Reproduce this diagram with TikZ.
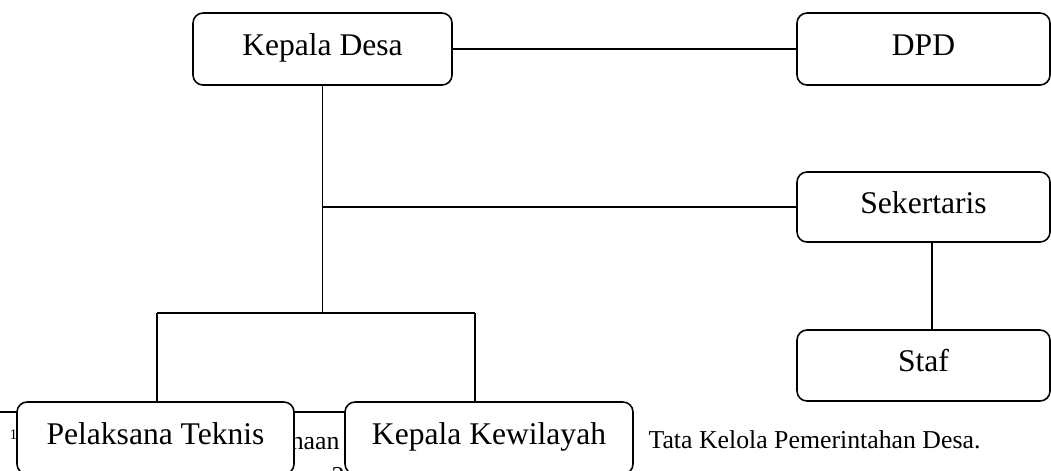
\documentclass[tikz,border=0pt]{standalone}
\usepackage{fontspec}
\setmainfont{Liberation Serif}

\newcommand{\px}{0.38pt}
\tikzset{
    unitbox/.style={draw, line width=0.6pt, rounded corners=3.8pt, fill=white,
        inner sep=0pt, text height=0.68em, text depth=0.22em,
        font=\fontsize{12}{14}\selectfont},
    link/.style={line width=0.6pt},
    notetext/.style={inner sep=0pt, font=\fontsize{9.8}{12}\selectfont}
}

\begin{document}
\begin{tikzpicture}[x=\px, y=-\px]
    \useasboundingbox (0,0) rectangle (1051,470);
    \clip (0,0) rectangle (1051,470);

    % Footnote of the page, lying behind the chart
    \coordinate (ruleL) at (0,412);
    \coordinate (ruleR) at (370,412);
    \draw[line width=0.5pt] (ruleL) -- (ruleR);
    \node[notetext, font=\fontsize{5.5}{6}\selectfont, anchor=base] (fnA) at (13.5,439) {1};
    \node[notetext, anchor=base east] (fnB) at (340,449) {haan};
    \node[notetext, anchor=base] (fnC) at (338,484) {2};
    \node[notetext, anchor=base west] (fnD) at (648,448) {Tata Kelola Pemerintahan Desa.};

    % Top row
    \node[unitbox, minimum width=259*\px, minimum height=72*\px] (kades) at (322.5,49) {Kepala Desa};
    \node[unitbox, minimum width=253*\px, minimum height=72*\px] (dpd) at (923.5,49) {DPD};
    % Right column
    \node[unitbox, minimum width=253*\px, minimum height=70*\px] (sekdes) at (923.5,207) {Sekertaris};
    \node[unitbox, minimum width=253*\px, minimum height=71*\px] (staf) at (923.5,365.5) {Staf};
    % Bottom row
    \node[unitbox, minimum width=277*\px, minimum height=72*\px] (teknis) at (155.5,438) {Pelaksana Teknis};
    \node[unitbox, minimum width=288*\px, minimum height=72*\px] (kewil) at (489,438) {Kepala Kewilayah};

    % Lines
    \coordinate (barL) at (157,313);
    \coordinate (barR) at (475,313);
    \draw[link] (kades.east) -- (dpd.west);
    \draw[link] (kades.south) -- (kades.south |- barL);
    \draw[link] (kades.south |- sekdes.west) -- (sekdes.west);
    \draw[link] ([xshift=8.5*\px]sekdes.south) -- ([xshift=8.5*\px]staf.north);
    \draw[link] (barL) -- (barR);
    \draw[link] (barL) -- (barL |- teknis.north);
    \draw[link] (barR) -- (barR |- kewil.north);

\end{tikzpicture}
\end{document}
